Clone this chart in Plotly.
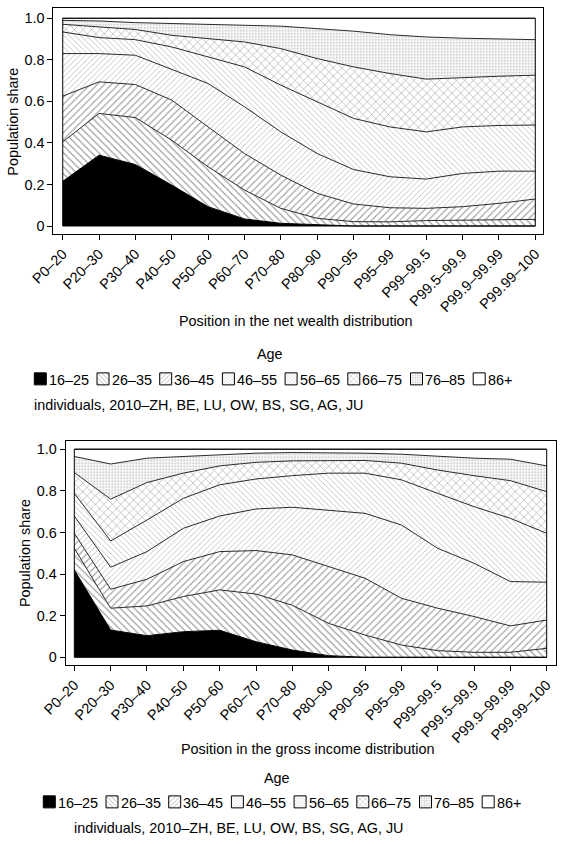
import plotly.graph_objects as go

# ---------------- data ----------------
categories = ["P0–20", "P20–30", "P30–40", "P40–50", "P50–60", "P60–70", "P70–80",
              "P80–90", "P90–95", "P95–99", "P99–99.5", "P99.5–99.9", "P99.9–99.99", "P99.99–100"]
age_groups = ["16–25", "26–35", "36–45", "46–55", "56–65", "66–75", "76–85", "86+"]
y_tick_vals = [0, 0.2, 0.4, 0.6, 0.8, 1.0]
y_tick_text = ["0", "0.2", "0.4", "0.6", "0.8", "1.0"]

# Net wealth distribution: population share of each age group
wealth_16_25 = [0.215, 0.341, 0.296, 0.197, 0.093, 0.034, 0.013, 0.005, 0, 0, 0, 0, 0, 0]
wealth_26_35 = [0.190, 0.201, 0.226, 0.216, 0.192, 0.139, 0.072, 0.032, 0.021, 0.020, 0.026, 0.029, 0.030, 0.032]
wealth_36_45 = [0.220, 0.152, 0.159, 0.193, 0.192, 0.176, 0.160, 0.120, 0.085, 0.068, 0.059, 0.064, 0.079, 0.098]
wealth_46_55 = [0.205, 0.136, 0.141, 0.147, 0.209, 0.225, 0.208, 0.192, 0.166, 0.149, 0.141, 0.160, 0.155, 0.134]
wealth_56_65 = [0.104, 0.077, 0.075, 0.109, 0.128, 0.192, 0.225, 0.249, 0.246, 0.240, 0.227, 0.224, 0.220, 0.222]
wealth_66_75 = [0.037, 0.051, 0.049, 0.056, 0.088, 0.120, 0.176, 0.208, 0.248, 0.257, 0.254, 0.238, 0.237, 0.240]
wealth_76_85 = [0.019, 0.029, 0.033, 0.056, 0.069, 0.080, 0.108, 0.144, 0.172, 0.187, 0.203, 0.189, 0.178, 0.171]
wealth_86p = [0.010, 0.013, 0.021, 0.026, 0.029, 0.034, 0.038, 0.050, 0.062, 0.079, 0.090, 0.096, 0.101, 0.103]

# Gross income distribution: population share of each age group
income_16_25 = [0.420, 0.131, 0.104, 0.123, 0.130, 0.075, 0.035, 0.008, 0, 0, 0, 0, 0, 0]
income_26_35 = [0.104, 0.105, 0.143, 0.169, 0.194, 0.229, 0.215, 0.155, 0.107, 0.059, 0.032, 0.024, 0.024, 0.043]
income_36_45 = [0.072, 0.091, 0.128, 0.168, 0.184, 0.209, 0.242, 0.273, 0.273, 0.225, 0.204, 0.172, 0.127, 0.136]
income_46_55 = [0.083, 0.106, 0.133, 0.160, 0.171, 0.200, 0.229, 0.272, 0.312, 0.352, 0.288, 0.256, 0.213, 0.182]
income_56_65 = [0.109, 0.126, 0.152, 0.144, 0.150, 0.144, 0.152, 0.177, 0.193, 0.217, 0.264, 0.272, 0.304, 0.235]
income_66_75 = [0.100, 0.201, 0.180, 0.121, 0.091, 0.080, 0.071, 0.061, 0.061, 0.080, 0.112, 0.149, 0.181, 0.200]
income_76_85 = [0.077, 0.169, 0.117, 0.080, 0.056, 0.044, 0.040, 0.038, 0.035, 0.043, 0.065, 0.084, 0.103, 0.124]
income_86p = [0.035, 0.071, 0.043, 0.035, 0.024, 0.019, 0.016, 0.016, 0.019, 0.024, 0.035, 0.043, 0.048, 0.080]

wealth_series = [wealth_16_25, wealth_26_35, wealth_36_45, wealth_46_55,
                 wealth_56_65, wealth_66_75, wealth_76_85, wealth_86p]
income_series = [income_16_25, income_26_35, income_36_45, income_46_55,
                 income_56_65, income_66_75, income_76_85, income_86p]

x_title_top = "Position in the net wealth distribution"
x_title_bottom = "Position in the gross income distribution"
y_title = "Population share"
legend_title = "Age"
note_text = "individuals, 2010–ZH, BE, LU, OW, BS, SG, AG, JU"

# ---------------- styles ----------------
FONT = "Liberation Sans, Arial, Helvetica, sans-serif"
FS = 14.4
styles = [
    dict(color="black", shape="", fg="black", size=6, sol=0.2),
    dict(color="white", shape="\\", fg="#333333", size=5, sol=0.22),
    dict(color="white", shape="/", fg="#404040", size=5, sol=0.22),
    dict(color="white", shape="/", fg="#808080", size=4, sol=0.22),
    dict(color="white", shape="\\", fg="#808080", size=4, sol=0.22),
    dict(color="white", shape="x", fg="#333333", size=6, sol=0.17),
    dict(color="white", shape=".", fg="#808080", size=3, sol=0.3),
    dict(color="white", shape="", fg="white", size=6, sol=0.2),
]

W, H = 563, 844
LEG_STEP = 62.7            # px between legend entries
LEG_ENTRY = LEG_STEP - 45  # plotly adds symbol area (40) + item gap (5)
SWATCH_OFFSET = 14         # px from legend x to first swatch's left edge

fig = go.Figure()


def add_panel(series, xa, ya, legend_name):
    for name, vals, st in zip(age_groups, series, styles):
        fp = dict(shape=st["shape"], size=st["size"], solidity=st["sol"],
                  fgcolor=st["fg"], bgcolor=st["color"]) if st["shape"] else None
        fig.add_trace(go.Scatter(
            x=categories, y=vals, name=name, stackgroup=xa, mode="lines",
            line=dict(color="black" if st["color"] == "black" else "#2a2a2a", width=1),
            fillcolor=st["color"], fillpattern=fp, showlegend=False,
            xaxis=xa, yaxis=ya, hoverinfo="skip"))
    # legend swatches (labels drawn right next to them as text below)
    for name, st in zip(age_groups, styles):
        pat = dict(shape=st["shape"], size=max(3, st["size"] - 1),
                   solidity=st["sol"], fgcolor=st["fg"], bgcolor=st["color"]) if st["shape"] else None
        fig.add_trace(go.Bar(
            x=[None], y=[None], name=" ", legend=legend_name, legendgroup=name,
            marker=dict(color=st["color"], pattern=pat, line=dict(color="black", width=1)),
            xaxis=xa, yaxis=ya, showlegend=True))


add_panel(wealth_series, "x", "y", "legend")
add_panel(income_series, "x2", "y2", "legend2")


def px_x(v):
    return v / W


def px_y(v):
    return 1 - v / H


axis_common = dict(showline=True, mirror=True, linecolor="black", linewidth=1,
                   ticks="outside", ticklen=5, tickcolor="black", showgrid=False,
                   zeroline=False, automargin=False,
                   tickfont=dict(family=FONT, size=FS, color="black"))

legend_common = dict(orientation="h", xanchor="left", yanchor="middle", entrywidth=LEG_ENTRY,
                     font=dict(family=FONT, size=FS, color="black"),
                     bgcolor="rgba(0,0,0,0)", traceorder="normal",
                     itemclick=False, itemdoubleclick=False, tracegroupgap=0)

# legend rows: left edge of first swatch and vertical centre (px)
leg_top = dict(swatch_x=34.3, y=379)
leg_bot = dict(swatch_x=43.3, y=802)

fig.update_layout(
    width=W, height=H, margin=dict(l=0, r=0, t=0, b=0, autoexpand=False),
    paper_bgcolor="white", plot_bgcolor="white",
    font=dict(family=FONT, size=FS, color="black"),
    xaxis=dict(domain=[px_x(53.3), px_x(543)], anchor="y", type="category",
               range=[-0.259, len(categories) - 1 + 0.212], tickangle=-45, **axis_common),
    yaxis=dict(domain=[px_y(234), px_y(8.3)], anchor="x", range=[-0.0385, 1.048],
               tickvals=y_tick_vals, ticktext=y_tick_text, **axis_common),
    xaxis2=dict(domain=[px_x(65.7), px_x(555.7)], anchor="y2", type="category",
                range=[-0.237, len(categories) - 1 + 0.248], tickangle=-45, **axis_common),
    yaxis2=dict(domain=[px_y(665), px_y(440.7)], anchor="x2", range=[-0.037, 1.041],
                tickvals=y_tick_vals, ticktext=y_tick_text, **axis_common),
    legend=dict(x=px_x(leg_top["swatch_x"] - SWATCH_OFFSET), y=px_y(leg_top["y"]), **legend_common),
    legend2=dict(x=px_x(leg_bot["swatch_x"] - SWATCH_OFFSET), y=px_y(leg_bot["y"]), **legend_common),
    showlegend=True, bargap=0,
)

# inner data frame
for xa, ya in (("x", "y"), ("x2", "y2")):
    fig.add_shape(type="rect", xref=xa, yref=ya, x0=categories[0], x1=categories[-1],
                  y0=0, y1=1, line=dict(color="black", width=1), layer="above")

ann = [
    dict(text=y_title, x=px_x(13), y=px_y(121.7), textangle=-90),
    dict(text=y_title, x=px_x(25), y=px_y(553), textangle=-90),
    dict(text=x_title_top, x=px_x(296), y=px_y(320.7)),
    dict(text=x_title_bottom, x=px_x(307.5), y=px_y(748.7)),
    dict(text=legend_title, x=px_x(270), y=px_y(354)),
    dict(text=legend_title, x=px_x(277), y=px_y(778)),
    dict(text=note_text, x=px_x(31.7), y=px_y(405), xanchor="left"),
    dict(text=note_text, x=px_x(71.7), y=px_y(828), xanchor="left"),
]
# legend labels, right next to each swatch
for leg in (leg_top, leg_bot):
    for i, name in enumerate(age_groups):
        ann.append(dict(text=name, x=px_x(leg["swatch_x"] + 12.5 + i * LEG_STEP),
                        y=px_y(leg["y"] + 1), xanchor="left"))

for a in ann:
    a.setdefault("xanchor", "center")
    fig.add_annotation(xref="paper", yref="paper", showarrow=False, yanchor="middle",
                       font=dict(family=FONT, size=FS, color="black"), **a)

# the page body's default 8px margin would shift the figure; remove it
fig.write_html("out.html", config={"displayModeBar": False},
               post_script="document.body.style.margin='0';")
